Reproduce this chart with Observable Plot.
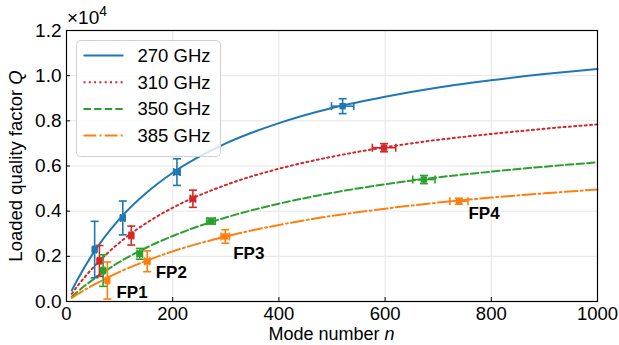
<!DOCTYPE html>
<html><head><meta charset="utf-8">
<script src="https://cdn.jsdelivr.net/npm/d3@7"></script>
<script src="https://cdn.jsdelivr.net/npm/@observablehq/plot@0.6"></script>
<style>
body{margin:0;background:#fff;}
#chart svg{display:block;font-family:"Liberation Sans",Arial,sans-serif;}
</style>
</head><body><div id="chart"></div>
<script>
// ---- data (Q in units of 10^4) ----
const series = ["270 GHz", "310 GHz", "350 GHz", "385 GHz"];
const colors = ["#1f77b4", "#d62728", "#2ca02c", "#ff7f0e"];

// fitted curves
const curveN = [10, 20, 50, 100, 150, 200, 300, 400, 500, 600, 700, 800, 900, 1000];
const q270 = [0.049, 0.094, 0.213, 0.366, 0.480, 0.570, 0.700, 0.790, 0.857, 0.907, 0.948, 0.980, 1.007, 1.030];
const q310 = [0.034, 0.066, 0.150, 0.261, 0.347, 0.415, 0.516, 0.588, 0.641, 0.683, 0.716, 0.742, 0.765, 0.784];
const q350 = [0.021, 0.042, 0.097, 0.175, 0.238, 0.290, 0.372, 0.433, 0.481, 0.519, 0.550, 0.575, 0.597, 0.616];
const q385 = [0.016, 0.031, 0.072, 0.131, 0.180, 0.222, 0.288, 0.339, 0.379, 0.411, 0.438, 0.460, 0.479, 0.496];

// measured points (mode number, Q, errors)
const n270 = [53, 106, 208, 520];   const p270 = [0.230, 0.370, 0.573, 0.865];
const dn270 = [3, 4, 6, 21];        const dq270 = [0.125, 0.075, 0.059, 0.033];
const n310 = [62, 122, 238, 598];   const p310 = [0.180, 0.292, 0.455, 0.681];
const dn310 = [3, 4, 5, 22];        const dq310 = [0.068, 0.042, 0.038, 0.018];
const n350 = [69, 138, 272, 673];   const p350 = [0.137, 0.211, 0.356, 0.540];
const dn350 = [3, 5, 8, 21];        const dq350 = [0.070, 0.024, 0.013, 0.018];
const n385 = [77, 152, 299, 739];   const p385 = [0.093, 0.178, 0.288, 0.444];
const dn385 = [3, 5, 8, 17];        const dq385 = [0.082, 0.046, 0.030, 0.013];

// annotation labels
const fpText = ["FP1", "FP2", "FP3", "FP4"];
const fpN = [94, 168, 314, 757];
const fpQ = [0.040, 0.128, 0.212, 0.390];

const xTicks = [0, 200, 400, 600, 800, 1000];
const yTicks = [0, 0.2, 0.4, 0.6, 0.8, 1.0, 1.2];

// ---- build tables ----
const curveQs = [q270, q310, q350, q385];
const ptN = [n270, n310, n350, n385], ptQ = [p270, p310, p350, p385];
const ptDN = [dn270, dn310, dn350, dn385], ptDQ = [dq270, dq310, dq350, dq385];
const curves = series.map((s, i) => curveN.map((n, j) => ({s, n, q: curveQs[i][j]})));
const points = series.flatMap((s, i) => ptN[i].map((n, j) => ({s, n, q: ptQ[i][j], dn: ptDN[i][j], dq: ptDQ[i][j]})));
const fps = fpText.map((t, i) => ({t, n: fpN[i], q: fpQ[i]}));

const dashes = [null, "2,3.3", "7.4,3.2", "12.8,3.2,2,3.2"];
const capH = {draw(ctx, size) { const w = Math.sqrt(size / Math.PI); ctx.moveTo(-w, 0); ctx.lineTo(w, 0); }};
const capV = {draw(ctx, size) { const w = Math.sqrt(size / Math.PI); ctx.moveTo(0, -w); ctx.lineTo(0, w); }};

const plot = Plot.plot({
  width: 619, height: 345,
  marginLeft: 66, marginRight: 22, marginTop: 30, marginBottom: 44,
  style: {fontSize: "18px", fontFamily: "'Liberation Sans', Arial, sans-serif", background: "#fff", color: "#000"},
  x: {domain: [0, 1000]},
  y: {domain: [0, 1.2]},
  color: {domain: series, range: colors},
  marks: [
    Plot.gridX({ticks: xTicks, stroke: "#e5e5e5", strokeOpacity: 1, strokeWidth: 1}),
    Plot.gridY({ticks: yTicks, stroke: "#e5e5e5", strokeOpacity: 1, strokeWidth: 1}),
    ...curves.map((c, i) => Plot.line(c, {x: "n", y: "q", stroke: colors[i], strokeWidth: 2, curve: "monotone-x", strokeDasharray: dashes[i] ?? undefined})),
    Plot.ruleX(points, {x: "n", y1: d => d.q - d.dq, y2: d => d.q + d.dq, stroke: "s", strokeWidth: 1.6}),
    Plot.ruleY(points, {y: "q", x1: d => d.n - d.dn, x2: d => d.n + d.dn, stroke: "s", strokeWidth: 1.6}),
    Plot.dot(points, {x: "n", y: d => d.q + d.dq, symbol: capH, r: 4, stroke: "s", strokeWidth: 1.6}),
    Plot.dot(points, {x: "n", y: d => d.q - d.dq, symbol: capH, r: 4, stroke: "s", strokeWidth: 1.6}),
    Plot.dot(points, {x: d => d.n - d.dn, y: "q", symbol: capV, r: 4, stroke: "s", strokeWidth: 1.6}),
    Plot.dot(points, {x: d => d.n + d.dn, y: "q", symbol: capV, r: 4, stroke: "s", strokeWidth: 1.6}),
    Plot.dot(points, {x: "n", y: "q", symbol: "square", r: 3.6, fill: "s", stroke: "none"}),
    Plot.text(fps, {x: "n", y: "q", text: "t", textAnchor: "start", fontWeight: "bold", fontSize: 17, fill: "#000"}),
    Plot.axisX({ticks: xTicks, tickSize: 0, tickPadding: 5, tickFormat: d => String(d), label: null, fontSize: 18.5}),
    Plot.axisX({ticks: xTicks, tickSize: -4, text: null, label: null}),
    Plot.axisY({ticks: yTicks, tickSize: 0, tickPadding: 5, tickFormat: d3.format(".1f"), label: null, fontSize: 19}),
    Plot.axisY({ticks: yTicks, tickSize: -4, text: null, label: null}),
    Plot.frame({stroke: "#000", strokeWidth: 1.2})
  ]
});
document.getElementById("chart").appendChild(plot);

// ---- extra text and legend ----
const svg = d3.select(plot);
const ff = "'Liberation Sans', Arial, sans-serif";
const mul = svg.append("text").attr("x", 67).attr("y", 24).attr("text-anchor", "start")
  .attr("font-size", 19).attr("font-family", ff).attr("fill", "#000");
mul.append("tspan").text("×10");
mul.append("tspan").attr("dy", -8).attr("font-size", 14).text("4");

const yl = svg.append("text").attr("transform", "translate(22,166) rotate(-90)").attr("text-anchor", "middle")
  .attr("font-size", 18.5).attr("font-family", ff).attr("fill", "#000");
yl.append("tspan").text("Loaded quality factor ");
yl.append("tspan").attr("font-style", "italic").text("Q");

const xl = svg.append("text").attr("x", 331.5).attr("y", 340).attr("text-anchor", "middle")
  .attr("font-size", 18).attr("font-family", ff).attr("fill", "#000");
xl.append("tspan").text("Mode number ");
xl.append("tspan").attr("font-style", "italic").text("n");

const lg = svg.append("g").attr("transform", "translate(76.5,40.5)");
lg.append("rect").attr("width", 144).attr("height", 116).attr("rx", 4)
  .attr("fill", "#fff").attr("fill-opacity", 0.8).attr("stroke", "#d0d0d0").attr("stroke-width", 1);
series.forEach((s, i) => {
  const y = 15 + i * 26.7;
  lg.append("line").attr("x1", 7).attr("x2", 47).attr("y1", y).attr("y2", y)
    .attr("stroke", colors[i]).attr("stroke-width", 2).attr("stroke-dasharray", dashes[i]);
  lg.append("text").attr("x", 61).attr("y", y).attr("dy", "0.35em").attr("text-anchor", "start")
    .attr("font-size", 18.5).attr("font-family", ff).attr("fill", "#000").text(s);
});
</script>
</body></html>
